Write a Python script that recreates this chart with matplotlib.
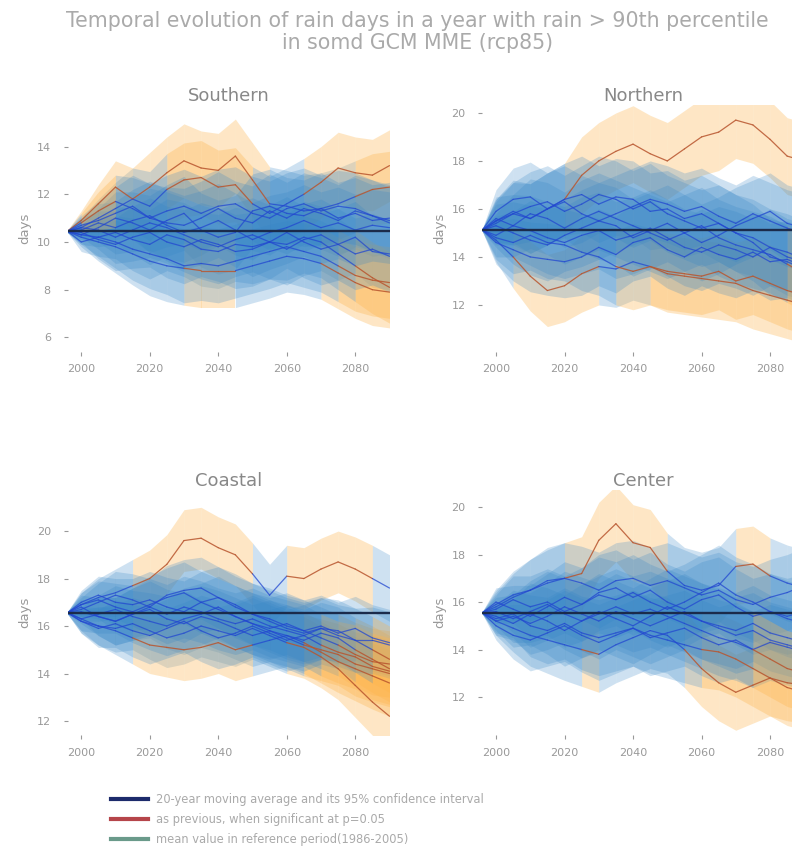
import numpy as np
import matplotlib
matplotlib.use("Agg")
import matplotlib.pyplot as plt
from matplotlib.lines import Line2D

# sample years for the 20-year moving averages
years = [1996, 2000, 2005, 2010, 2015, 2020, 2025, 2030, 2035, 2040,
         2045, 2050, 2055, 2060, 2065, 2070, 2075, 2080, 2085, 2090]

# reference period means
ref_southern = 10.45
ref_northern = 15.12
ref_coastal = 16.56
ref_center = 15.55

# 95% confidence half-width of each moving average
hw_southern = [0.05, 0.4, 0.8, 1.1, 1.3, 1.45, 1.5, 1.55, 1.55, 1.55,
               1.55, 1.55, 1.55, 1.5, 1.5, 1.5, 1.5, 1.5, 1.5, 1.5]
hw_northern = [0.05, 0.9, 1.3, 1.45, 1.5, 1.5, 1.6, 1.6, 1.6, 1.6,
               1.6, 1.6, 1.6, 1.6, 1.6, 1.6, 1.6, 1.6, 1.6, 1.6]
hw_coastal = [0.05, 0.5, 0.8, 1.0, 1.1, 1.2, 1.25, 1.3, 1.3, 1.3,
              1.3, 1.3, 1.3, 1.3, 1.3, 1.3, 1.3, 1.35, 1.4, 1.4]
hw_center = [0.05, 0.6, 1.0, 1.3, 1.4, 1.5, 1.55, 1.6, 1.6, 1.6,
             1.6, 1.6, 1.6, 1.6, 1.6, 1.6, 1.6, 1.6, 1.6, 1.6]

# one row per model run
runs_southern = [
    [10.45, 10.6, 11.0, 11.4, 11.8, 12.3, 12.9, 13.4, 13.1, 13.0, 13.6, 12.6, 11.6, 11.5, 11.3, 11.4, 11.6, 11.9, 12.2, 12.3],
    [10.45, 10.9, 11.6, 12.3, 11.8, 11.5, 12.2, 12.6, 12.7, 12.3, 12.4, 11.6, 11.2, 11.6, 12.0, 12.5, 13.1, 12.9, 12.8, 13.2],
    [10.45, 10.7, 10.9, 11.2, 11.5, 11.0, 10.8, 10.7, 11.0, 11.4, 11.0, 10.8, 11.3, 11.0, 11.4, 11.2, 10.9, 11.3, 11.1, 10.8],
    [10.45, 10.3, 10.6, 11.0, 10.8, 10.5, 10.9, 11.2, 10.5, 10.2, 10.4, 11.3, 11.5, 11.2, 11.1, 11.4, 11.0, 11.2, 10.9, 11.0],
    [10.45, 10.0, 10.2, 10.4, 10.1, 9.9, 10.3, 10.1, 9.7, 9.6, 9.9, 9.8, 10.0, 9.7, 10.1, 10.3, 9.9, 10.2, 9.6, 9.5],
    [10.45, 10.2, 10.0, 9.8, 9.5, 9.2, 9.0, 8.9, 8.8, 8.8, 8.8, 9.0, 9.2, 9.4, 9.3, 9.1, 8.7, 8.3, 8.0, 7.9],
    [10.45, 10.3, 10.2, 10.0, 9.7, 9.5, 9.3, 9.0, 9.1, 9.0, 9.2, 9.4, 9.6, 9.8, 9.6, 9.4, 9.0, 8.6, 8.4, 8.3],
    [10.45, 10.6, 10.5, 10.2, 10.5, 10.8, 10.6, 10.3, 10.0, 9.8, 10.1, 10.3, 10.0, 9.9, 10.2, 10.0, 9.5, 9.0, 8.5, 8.1],
    [10.45, 10.5, 10.8, 10.6, 10.9, 11.1, 10.7, 10.4, 10.6, 10.9, 10.5, 10.1, 10.4, 10.6, 10.9, 10.6, 10.8, 10.5, 10.7, 10.6],
    [10.45, 10.4, 10.1, 9.9, 10.2, 10.4, 10.0, 9.8, 10.1, 9.9, 9.6, 9.7, 10.0, 10.4, 10.0, 9.7, 9.9, 9.5, 9.7, 9.4],
    [10.45, 10.8, 11.3, 11.7, 11.4, 11.0, 11.3, 11.5, 11.2, 11.5, 11.6, 11.2, 11.0, 11.4, 11.6, 11.3, 11.5, 11.4, 11.1, 10.9],
]
runs_northern = [
    [15.12, 15.4, 15.8, 15.6, 16.0, 16.4, 17.4, 18.0, 18.4, 18.7, 18.3, 18.0, 18.5, 19.0, 19.2, 19.7, 19.5, 18.9, 18.2, 18.0],
    [15.12, 14.7, 14.0, 13.2, 12.6, 12.8, 13.3, 13.6, 13.5, 13.8, 13.6, 13.3, 13.2, 13.1, 13.0, 12.9, 12.6, 12.4, 12.2, 12.0],
    [15.12, 15.9, 16.4, 16.5, 16.0, 16.4, 16.6, 16.2, 16.5, 16.4, 15.9, 16.0, 15.6, 15.8, 15.4, 15.0, 14.8, 14.4, 14.0, 13.8],
    [15.12, 14.8, 14.6, 14.9, 14.6, 14.5, 14.2, 14.0, 13.6, 13.4, 13.6, 13.4, 13.3, 13.2, 13.4, 13.0, 13.2, 12.9, 12.6, 12.4],
    [15.12, 15.5, 15.8, 16.1, 16.3, 15.9, 16.2, 16.6, 16.4, 16.0, 16.3, 15.8, 15.5, 15.2, 15.4, 15.0, 14.6, 14.0, 13.8, 13.5],
    [15.12, 15.3, 15.0, 14.7, 14.5, 14.9, 15.2, 15.5, 15.3, 14.8, 15.1, 15.4, 15.0, 14.6, 14.9, 15.3, 15.6, 15.9, 15.4, 15.2],
    [15.12, 14.6, 14.3, 14.0, 13.9, 13.8, 14.0, 14.4, 14.1, 14.6, 14.8, 14.3, 14.0, 14.4, 14.1, 13.9, 14.2, 13.8, 13.9, 13.6],
    [15.12, 15.6, 15.3, 15.8, 15.6, 15.2, 15.6, 15.9, 15.6, 15.3, 15.0, 14.7, 15.0, 15.3, 14.8, 14.5, 14.3, 14.1, 13.7, 13.3],
    [15.12, 14.9, 15.3, 15.1, 14.8, 14.6, 14.9, 15.1, 14.7, 14.9, 15.2, 14.8, 14.4, 14.2, 14.5, 14.3, 14.0, 14.4, 14.2, 13.9],
    [15.12, 15.5, 15.9, 15.6, 16.0, 16.3, 15.8, 15.5, 15.8, 16.1, 16.4, 16.2, 15.9, 16.1, 15.7, 15.4, 15.8, 15.5, 15.2, 15.0],
]
runs_coastal = [
    [16.56, 16.9, 17.2, 17.4, 17.7, 18.0, 18.6, 19.6, 19.7, 19.3, 19.0, 18.2, 17.3, 18.1, 18.0, 18.4, 18.7, 18.4, 18.0, 17.6],
    [16.56, 16.3, 16.0, 15.9, 16.1, 15.8, 15.5, 15.7, 16.0, 15.8, 15.6, 15.9, 15.6, 15.3, 15.1, 14.7, 14.2, 13.5, 12.8, 12.2],
    [16.56, 16.8, 16.4, 16.2, 16.5, 16.7, 16.3, 16.1, 16.4, 16.2, 15.9, 15.6, 15.8, 15.5, 15.2, 15.0, 14.8, 14.4, 14.2, 14.0],
    [16.56, 16.2, 16.0, 15.8, 15.5, 15.2, 15.1, 15.0, 15.1, 15.3, 15.0, 15.2, 15.4, 15.6, 15.3, 14.9, 14.5, 14.2, 13.9, 13.6],
    [16.56, 16.9, 17.1, 16.8, 16.6, 16.9, 17.2, 17.4, 17.0, 16.7, 16.4, 16.1, 15.9, 16.1, 15.8, 16.0, 15.7, 15.9, 15.5, 15.3],
    [16.56, 16.7, 17.0, 17.3, 17.1, 16.8, 17.3, 17.5, 17.6, 17.2, 16.9, 16.5, 16.3, 16.0, 15.8, 15.5, 15.2, 14.8, 14.5, 14.4],
    [16.56, 16.3, 16.5, 16.7, 16.4, 16.2, 16.0, 16.3, 16.5, 16.8, 16.4, 16.1, 15.8, 15.6, 15.4, 15.7, 15.5, 15.0, 14.6, 14.2],
    [16.56, 17.0, 17.3, 17.0, 16.9, 17.1, 16.8, 16.6, 17.0, 17.2, 16.8, 16.5, 16.2, 15.9, 15.7, 15.9, 15.6, 15.4, 15.4, 15.2],
    [16.56, 16.2, 15.9, 16.1, 15.8, 15.6, 15.9, 16.2, 15.8, 15.5, 15.7, 16.0, 15.7, 15.4, 15.6, 15.2, 14.9, 14.7, 14.3, 14.1],
    [16.56, 16.6, 16.4, 16.2, 16.5, 16.8, 16.5, 16.8, 16.6, 16.3, 16.1, 16.3, 16.0, 15.8, 15.6, 15.9, 15.8, 15.4, 15.0, 14.6],
]
runs_center = [
    [15.55, 15.8, 16.2, 16.5, 16.8, 17.0, 17.2, 18.6, 19.3, 18.5, 18.3, 17.3, 16.7, 16.5, 16.7, 17.5, 17.6, 17.1, 16.8, 16.6],
    [15.55, 15.2, 14.9, 14.6, 14.4, 14.2, 14.0, 13.8, 14.2, 14.5, 14.8, 14.6, 14.0, 13.2, 12.6, 12.2, 12.5, 12.8, 12.4, 12.2],
    [15.55, 15.3, 15.5, 15.0, 14.8, 15.1, 14.7, 14.5, 14.7, 14.9, 14.6, 14.4, 14.2, 14.0, 13.9, 13.6, 13.2, 12.8, 12.6, 12.5],
    [15.55, 15.9, 16.3, 16.5, 16.9, 17.0, 16.8, 16.5, 16.9, 17.0, 16.7, 16.9, 16.6, 16.3, 16.5, 16.1, 15.9, 16.2, 16.4, 16.7],
    [15.55, 16.0, 15.7, 15.4, 15.8, 16.2, 15.9, 16.4, 16.6, 16.2, 16.5, 16.0, 15.7, 16.1, 16.3, 15.8, 15.4, 15.6, 15.3, 15.1],
    [15.55, 15.0, 14.6, 14.4, 14.7, 15.0, 14.6, 14.3, 14.6, 14.9, 14.5, 14.7, 14.9, 14.5, 14.2, 14.4, 14.0, 14.3, 14.1, 13.9],
    [15.55, 15.4, 15.1, 15.5, 15.2, 14.8, 15.2, 15.6, 15.3, 15.0, 15.4, 15.8, 15.5, 15.2, 14.9, 14.6, 14.8, 14.4, 14.2, 14.0],
    [15.55, 15.7, 16.1, 15.8, 16.0, 15.6, 15.9, 16.3, 16.1, 16.4, 16.0, 15.7, 16.0, 16.4, 16.8, 16.3, 16.0, 15.6, 15.4, 15.6],
    [15.55, 15.2, 15.4, 15.1, 15.4, 15.8, 15.5, 15.2, 15.6, 15.3, 15.0, 15.3, 15.6, 15.2, 15.0, 14.8, 15.1, 14.7, 14.5, 14.3],
    [15.55, 15.6, 15.3, 15.6, 15.9, 15.5, 15.2, 15.5, 15.8, 15.5, 15.7, 15.4, 15.1, 14.8, 14.5, 14.3, 14.0, 13.6, 13.2, 13.0],
]

BLUE_BAND = '#3585c6'
ORANGE_BAND = '#fdb44b'
BLUE_LINE = '#2247d0'
RED_LINE = '#b8552e'
MEAN_LINE = '#1b2b4b'
GREY = '#999999'


def draw_panel(ax, runs, ref, hw, title, ylim, yticks):
    yrs = np.array(years, dtype=float)
    hw = np.array(hw)
    # significant where the confidence band leaves the reference mean
    for run in runs:
        v = np.array(run)
        for i in range(len(yrs) - 1):
            sig = abs(v[i:i+2].mean() - ref) > hw[i:i+2].mean()
            ax.fill_between(yrs[i:i+2], v[i:i+2] - hw[i:i+2], v[i:i+2] + hw[i:i+2],
                            color=ORANGE_BAND if sig else BLUE_BAND,
                            alpha=0.32 if sig else 0.24, lw=0)
    for run in runs:
        v = np.array(run)
        for i in range(len(yrs) - 1):
            sig = abs(v[i:i+2].mean() - ref) > hw[i:i+2].mean()
            ax.plot(yrs[i:i+2], v[i:i+2], color=RED_LINE if sig else BLUE_LINE,
                    lw=0.9, alpha=0.85 if sig else 0.75, solid_capstyle='round')
    ax.plot([yrs[0], yrs[-1]], [ref, ref], color=MEAN_LINE, lw=1.7)

    ax.set_xlim(1996, 2090)
    ax.set_ylim(*ylim)
    ax.set_xticks([2000, 2020, 2040, 2060, 2080])
    ax.set_yticks(yticks)
    for s in ax.spines.values():
        s.set_visible(False)
    ax.tick_params(colors=GREY, labelcolor=GREY, labelsize=8, length=3, width=0.8)
    ax.tick_params(axis='y', pad=9)
    ax.tick_params(axis='x', pad=6)
    ax.set_ylabel('days', color=GREY, fontsize=9.5)
    ax.set_title(title, color='#888888', fontsize=13, pad=3)


plt.rcParams['font.family'] = ['DejaVu Sans']
fig = plt.figure(figsize=(7.92, 8.46), dpi=100)

W, H = 792.0, 846.0
aw = 322 / W
ax1 = fig.add_axes([67.5 / W, 1 - 352 / H, aw, 247 / H])
ax2 = fig.add_axes([482.3 / W, 1 - 352 / H, aw, 247 / H])
ax3 = fig.add_axes([67.5 / W, 1 - 735 / H, aw, 245 / H])
ax4 = fig.add_axes([482.3 / W, 1 - 735 / H, aw, 245 / H])

draw_panel(ax1, runs_southern, ref_southern, hw_southern, 'Southern', (5.39, 15.74), [6, 8, 10, 12, 14])
draw_panel(ax2, runs_northern, ref_northern, hw_northern, 'Northern', (10.04, 20.33), [12, 14, 16, 18, 20])
draw_panel(ax3, runs_coastal, ref_coastal, hw_coastal, 'Coastal', (11.41, 21.73), [12, 14, 16, 18, 20])
draw_panel(ax4, runs_center, ref_center, hw_center, 'Center', (10.40, 20.72), [12, 14, 16, 18, 20])

fig.text(0.527, 0.987, 'Temporal evolution of rain days in a year with rain > 90th percentile\nin somd GCM MME (rcp85)',
         ha='center', va='top', color='#aaaaaa', fontsize=14.8, linespacing=1.15)

handles = [Line2D([], [], color='#1c2a6b', lw=3),
           Line2D([], [], color='#b5454a', lw=3),
           Line2D([], [], color='#6a9a8a', lw=3)]
labels = ['20-year moving average and its 95% confidence interval',
          'as previous, when significant at p=0.05',
          'mean value in reference period(1986-2005)']
leg = fig.legend(handles, labels, loc='upper left', bbox_to_anchor=(104 / W, 1 - 786 / H),
                 frameon=False, fontsize=8.3, handlelength=3.2, handletextpad=0.7,
                 labelspacing=0.6, borderaxespad=0.2)
for t in leg.get_texts():
    t.set_color('#aaaaaa')

fig.savefig('out.png', dpi=100)
